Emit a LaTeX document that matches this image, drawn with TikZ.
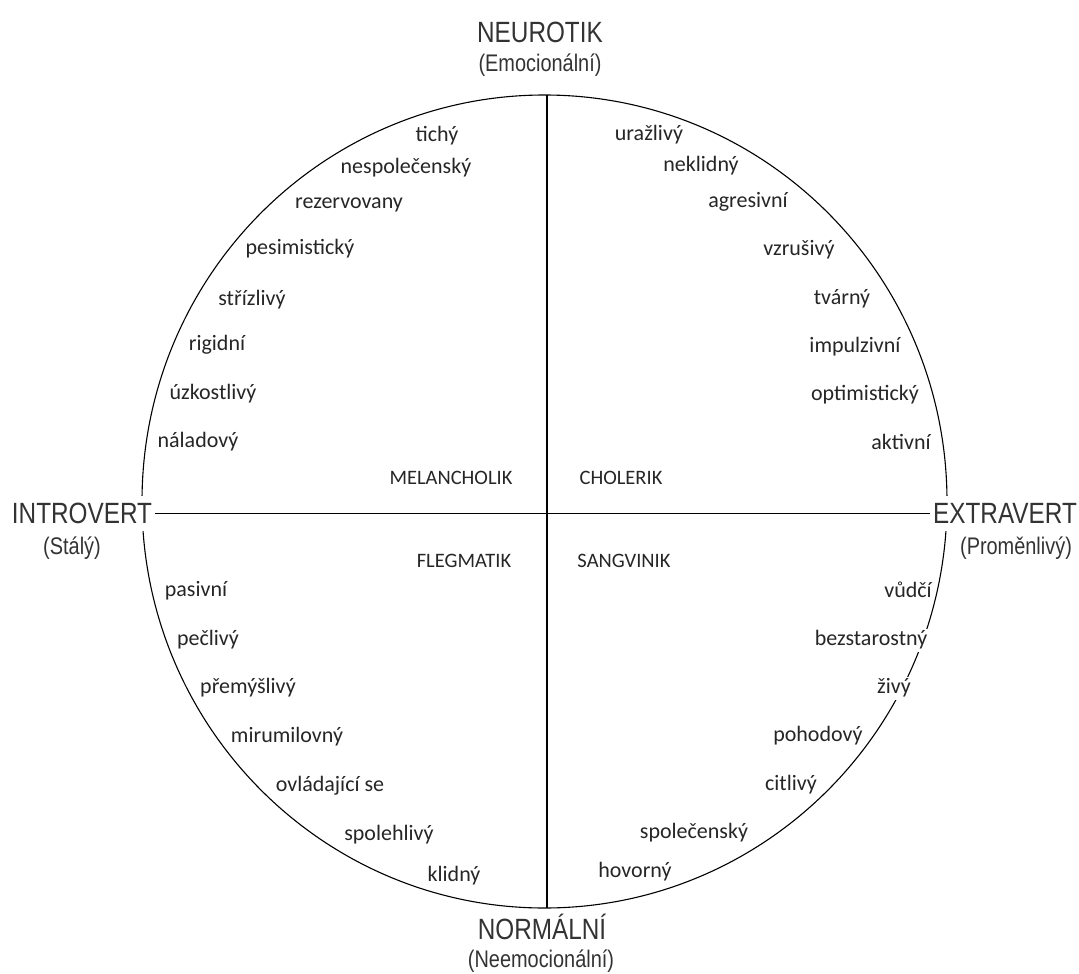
\documentclass[tikz,border=0pt]{standalone}
\usepackage{fontspec}
\setmainfont{Carlito}
\newfontfamily\osafont[FakeStretch=0.83]{Liberation Sans}
\usepackage{tikz}

\tikzset{
  slovo/.style={font=\fontsize{22}{26}\selectfont, text=black!85, fill=white,
    inner sep=1pt, text height=16pt, text depth=5pt},
  typ/.style={font=\fontsize{20.5}{24}\selectfont, text=black!85},
  osa/.style={font=\osafont\fontsize{29.3}{34}\selectfont, text=black!80, fill=white,
    inner xsep=3pt, inner ysep=7pt},
  podosa/.style={font=\osafont\fontsize{24}{28}\selectfont, text=black!80},
  cara/.style={line width=1.3pt}
}

\begin{document}
\begin{tikzpicture}[x=1pt, y=-1pt]

        \useasboundingbox (0,0) rectangle (1079,974);

        % kruh
        \draw[line width=1.1pt] (544.5,501.5) ellipse [x radius=402.5pt, y radius=406.5pt];

        % osy - popisky
        \node[osa] (introvert) at (82,513.5) {INTROVERT};
        \node[podosa] (staly) at (72,548) {(Stálý)};
        \node[osa] (extravert) at (1005,513.5) {EXTRAVERT};
        \node[podosa] (promenlivy) at (1016,548) {(Proměnlivý)};
        \node[osa, fill=none] (neurotik) at (540,32.5) {NEUROTIK};
        \node[podosa] (emoc) at (540,65) {(Emocionální)};
        \node[osa, fill=none] (normalni) at (542,927) {NORMÁLNÍ};
        \node[podosa] (neemoc) at (541,961) {(Neemocionální)};

        % typy
        \node[typ] (melancholik) at (451,478) {MELANCHOLIK};
        \node[typ] (cholerik) at (621,478) {CHOLERIK};
        \node[typ] (flegmatik) at (464,561) {FLEGMATIK};
        \node[typ] (sangvinik) at (624,561) {SANGVINIK};

        % vlastnosti - melancholik
        \foreach \t/\x/\y [count=\i] in {tichý/437/136, nespolečenský/406/168,
            rezervovany/349/203, pesimistický/300/249, střízlivý/252/300,
            rigidní/217/345, úzkostlivý/213/394, náladový/198/442}
            \node[slovo] (mel\i) at (\x,\y) {\t};

        % vlastnosti - cholerik
        \foreach \t/\x/\y [count=\i] in {uražlivý/649/135, neklidný/701/166,
            agresivní/748/202, vzrušivý/799/250, tvárný/842/299,
            impulzivní/855/347, optimistický/865/395, aktivní/901/444}
            \node[slovo] (cho\i) at (\x,\y) {\t};

        % vlastnosti - flegmatik
        \foreach \t/\x/\y [count=\i] in {pasivní/196/591, pečlivý/208/640,
            přemýšlivý/248/688, mirumilovný/287/737, ovládající se/330/786,
            spolehlivý/389/835, klidný/454/876}
            \node[slovo] (fle\i) at (\x,\y) {\t};

        % vlastnosti - sangvinik
        \foreach \t/\x/\y [count=\i] in {vůdčí/908/592, bezstarostný/871/640,
            živý/894/688, pohodový/818/736, citlivý/791/785,
            společenský/694/833, hovorný/635/872}
            \node[slovo] (san\i) at (\x,\y) {\t};

        % osy
        \coordinate (vrch) at (547,95);
        \coordinate (spod) at (547,908);
        \draw[cara] (vrch) -- (spod);
        \draw[cara] (introvert.east) -- (extravert.west);

\end{tikzpicture}
\end{document}
